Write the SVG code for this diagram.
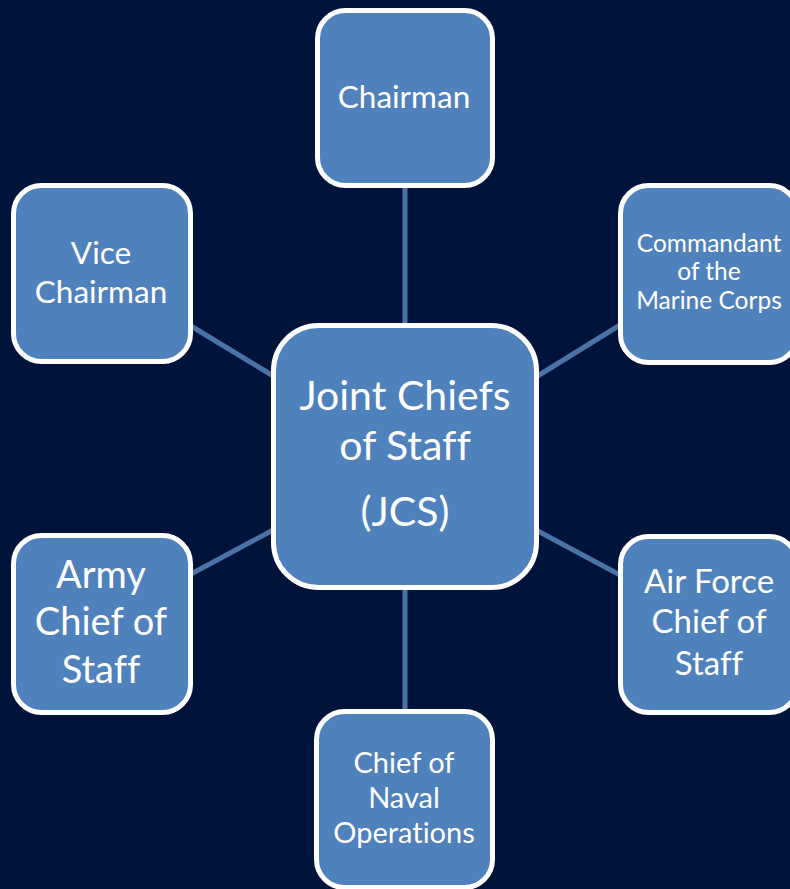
<svg xmlns="http://www.w3.org/2000/svg" width="790" height="889" viewBox="0 0 790 889">
  <style>
    .box { fill: #4F81BD; stroke: #FFFFFF; stroke-width: 5; }
    .lbl { fill: #FFFFFF; font-family: Lato, "Liberation Sans", sans-serif; text-anchor: middle; font-variant-ligatures: none; font-feature-settings: "liga" 0; }
    .link { stroke: #4A72A6; stroke-width: 5; fill: none; }
  </style>
  <rect width="790" height="889" fill="#00133A"/>

  <g id="connectors">
    <line class="link" x1="405" y1="186" x2="405" y2="326"/>
    <line class="link" x1="191" y1="326" x2="275" y2="377"/>
    <line class="link" x1="620" y1="325" x2="536" y2="377"/>
    <line class="link" x1="191" y1="574" x2="275" y2="529"/>
    <line class="link" x1="620" y1="575" x2="536" y2="530"/>
    <line class="link" x1="405" y1="588" x2="405" y2="712"/>
  </g>

  <g id="jcs">
    <rect class="box" x="273.5" y="325.5" width="263" height="262" rx="45"/>
    <text class="lbl" font-size="41" x="405" y="410">Joint Chiefs</text>
    <text class="lbl" font-size="41" x="405" y="460">of Staff</text>
    <text class="lbl" font-size="41" x="405" y="526">(JCS)</text>
  </g>

  <g id="chairman">
    <rect class="box" x="317.5" y="10.5" width="175" height="175" rx="28"/>
    <text class="lbl" font-size="31.5" x="404" y="108">Chairman</text>
  </g>

  <g id="vice-chairman">
    <rect class="box" x="13.5" y="185.5" width="177" height="176" rx="28"/>
    <text class="lbl" font-size="31.5" x="101" y="264">Vice</text>
    <text class="lbl" font-size="31.5" x="101" y="303">Chairman</text>
  </g>

  <g id="commandant">
    <rect class="box" x="620.5" y="185.5" width="177" height="177" rx="28"/>
    <text class="lbl" font-size="24.5" x="709" y="252">Commandant</text>
    <text class="lbl" font-size="24.5" x="709" y="280">of the</text>
    <text class="lbl" font-size="24.5" x="709" y="309">Marine Corps</text>
  </g>

  <g id="army">
    <rect class="box" x="13.5" y="535.5" width="177" height="177" rx="28"/>
    <text class="lbl" font-size="38" x="101" y="588">Army</text>
    <text class="lbl" font-size="38" x="101" y="635">Chief of</text>
    <text class="lbl" font-size="38" x="101" y="683">Staff</text>
  </g>

  <g id="air-force">
    <rect class="box" x="620.5" y="536.5" width="177" height="176" rx="28"/>
    <text class="lbl" font-size="33" x="709" y="593">Air Force</text>
    <text class="lbl" font-size="33" x="709" y="633">Chief of</text>
    <text class="lbl" font-size="33" x="709" y="675">Staff</text>
  </g>

  <g id="naval-operations">
    <rect class="box" x="316.5" y="711.5" width="176" height="176" rx="28"/>
    <text class="lbl" font-size="29" x="404" y="773">Chief of</text>
    <text class="lbl" font-size="29" x="404" y="808">Naval</text>
    <text class="lbl" font-size="29" x="404" y="843">Operations</text>
  </g>
</svg>
